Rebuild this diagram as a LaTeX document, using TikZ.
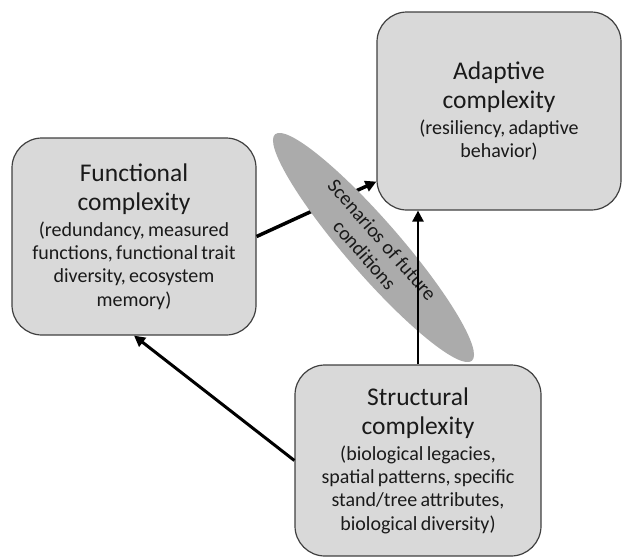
\documentclass[tikz,border=0pt]{standalone}
\usepackage{fontspec}
\setmainfont{Carlito}
\usetikzlibrary{shapes.geometric,arrows.meta}
\definecolor{boxfill}{HTML}{D9D9D9}
\definecolor{boxline}{HTML}{404040}
\definecolor{ellfill}{HTML}{ABABAB}
\definecolor{txt}{HTML}{1A1A1A}
\newcommand\ttlfont{\fontsize{25.5}{29}\selectfont}
\newcommand\subfnt{\fontsize{20}{23.3}\selectfont}
\begin{document}
\begin{tikzpicture}[x=1pt,y=-1pt,
  box/.style={draw=boxline, line width=1.2pt, fill=boxfill, rounded corners=30pt,
    inner sep=0pt, text=txt, align=center, text width=236pt},
  conn/.style={-{Triangle[length=11pt,width=11pt]}, black}]
\useasboundingbox (0,0) rectangle (622,558);

\node[box, minimum width=244pt, minimum height=198pt] (adapt) at (499,111)
  {{\ttlfont Adaptive\\complexity\par}\vspace{2.7pt}{\subfnt (resiliency, adaptive\\behavior)\par}};

\node[box, minimum width=244pt, minimum height=197pt] (func) at (134,236.5)
  {{\ttlfont Functional\\complexity\par}\vspace{2.7pt}{\subfnt (redundancy, measured\\functions, functional trait\\diversity, ecosystem\\memory)\par}};

\node[box, minimum width=246pt, minimum height=191pt] (struct) at (418,460.5)
  {{\ttlfont Structural\\complexity\par}\vspace{2.7pt}{\subfnt (biological legacies,\\spatial patterns, specific\\stand/tree attributes,\\biological diversity)\par}};

\draw[conn, line width=3.5pt] (func.east) -- ([yshift=29pt]adapt.south west);

\node[ellipse, fill=ellfill, minimum width=300pt, minimum height=54pt, inner sep=0pt,
  rotate=-49, text=txt, align=center, font=\subfnt] (scen) at (373.5,247.5)
  {Scenarios of future\\conditions};

\draw[conn, line width=2.5pt] (struct.north) -- (struct.north |- adapt.south);
\draw[conn, line width=3pt] (struct.west) -- (func.south);
\end{tikzpicture}
\end{document}
